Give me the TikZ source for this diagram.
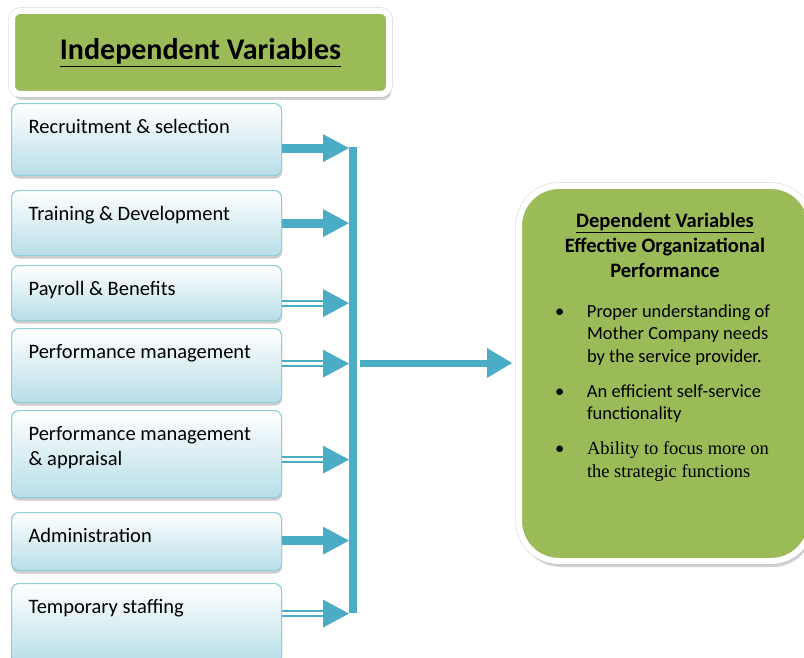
\documentclass[tikz,border=0pt]{standalone}
\usepackage{fontspec}
\setmainfont{Carlito}
\newfontfamily\timesfont{Liberation Serif}
\usetikzlibrary{arrows.meta,shadows,positioning}

\definecolor{varblue}{HTML}{4BACC6}
\definecolor{boxedge}{HTML}{92CDDC}
\definecolor{boxfill}{HTML}{B7DEE8}
\definecolor{vargreen}{HTML}{9BBB59}

% text block at the top of a box
\newcommand{\boxtext}[2]{\parbox[t][#1][t]{236pt}{\raggedright #2}}

\begin{document}
\begin{tikzpicture}[
        x=1pt, y=-1pt,
        varbox/.style={
            rectangle, rounded corners=7pt, draw=boxedge, line width=1.2pt,
            top color=white, bottom color=boxfill,
            minimum width=270pt, anchor=north west,
            inner xsep=17pt, inner ysep=16pt,
            font=\fontsize{20.5}{25}\selectfont,
            drop shadow={shadow xshift=0.5pt, shadow yshift=-3pt, fill=black!40}
        },
        greenbox/.style={
            rectangle, fill=vargreen, draw=white, line width=6pt,
            preaction={draw=black!12, line width=7.5pt},
            drop shadow={shadow xshift=2pt, shadow yshift=-6pt, fill=black!35}
        },
        arrowthick/.style={
            draw=varblue, line width=9pt, shorten >=4pt,
            -{Triangle[length=26pt,width=28pt,line width=0pt]}
        },
        arrowdouble/.style={
            draw=varblue, line width=2pt, double=white, double distance=3pt,
            shorten >=4pt,
            -{Triangle[length=26pt,width=28pt,line width=0pt]}
        }
    ]
        \useasboundingbox (0,0) rectangle (804,658);

        % Independent Variables
        \node[greenbox, rounded corners=8pt, minimum width=377pt, minimum height=83pt,
              font=\fontsize{30}{34}\selectfont\bfseries] (title) at (200.5,52.5)
            {\underline{Independent Variables}};

        % Variable boxes
        \node[varbox] (recruit) at (11,103) {\boxtext{40pt}{Recruitment \& selection}};
        \node[varbox] (train) at (11,190) {\boxtext{33pt}{Training \& Development}};
        \node[varbox] (payroll) at (11,265) {\boxtext{23pt}{Payroll \& Benefits}};
        \node[varbox] (perf) at (11,328) {\boxtext{42pt}{Performance management}};
        \node[varbox] (appraisal) at (11,410) {\boxtext{55pt}{Performance management\\ \& appraisal}};
        \node[varbox] (admin) at (11,512) {\boxtext{26pt}{Administration}};
        \node[varbox] (staff) at (11,583) {\boxtext{48pt}{Temporary staffing}};

        % Collecting bar
        \coordinate (bartop) at (353,147);
        \coordinate (barbot) at (353,613);
        \draw[varblue, line width=8pt] (bartop) -- (barbot);

        % Arrows into the bar
        \foreach \name/\dy/\kind in {recruit/8.5/arrowthick, train/0/arrowthick,
                payroll/10/arrowdouble, perf/-2/arrowdouble, appraisal/5.5/arrowdouble,
                admin/-1/arrowthick, staff/-10/arrowdouble}
            \draw[\kind] ([yshift=-\dy pt]\name.east) -- ([yshift=-\dy pt]\name.east -| bartop);

        % Dependent Variables
        \node[greenbox, rounded corners=40pt, minimum width=292pt, anchor=north west,
              inner xsep=20pt, inner ysep=27pt] (dep) at (516,183) {%
            \parbox[t][321pt][t]{252pt}{%
                {\centering\fontsize{20.5}{25}\selectfont\bfseries
                 \underline{Dependent Variables}\\
                 Effective Organizational\\
                 Performance\par}%
                \vspace{17.5pt}%
                \fontsize{18.5}{22.5}\selectfont
                \begin{tabular}[t]{@{\hspace{16pt}}p{32pt}@{}l@{}}
                    \textbullet & Proper understanding of\\
                    & Mother Company needs\\
                    & by the service provider.\\[12.5pt]
                    \textbullet & An efficient self-service\\
                    & functionality\\[12.5pt]
                    \textbullet & {\timesfont Ability to focus more on}\\
                    & {\timesfont the strategic functions}
                \end{tabular}}};

        % Result arrow
        \coordinate (barmid) at (357,363);
        \draw[varblue, line width=7pt, shorten <=3pt, shorten >=4pt,
              -{Triangle[length=25pt,width=30pt,line width=0pt]}] (barmid) -- (dep.west |- barmid);

    \end{tikzpicture}
\end{document}
